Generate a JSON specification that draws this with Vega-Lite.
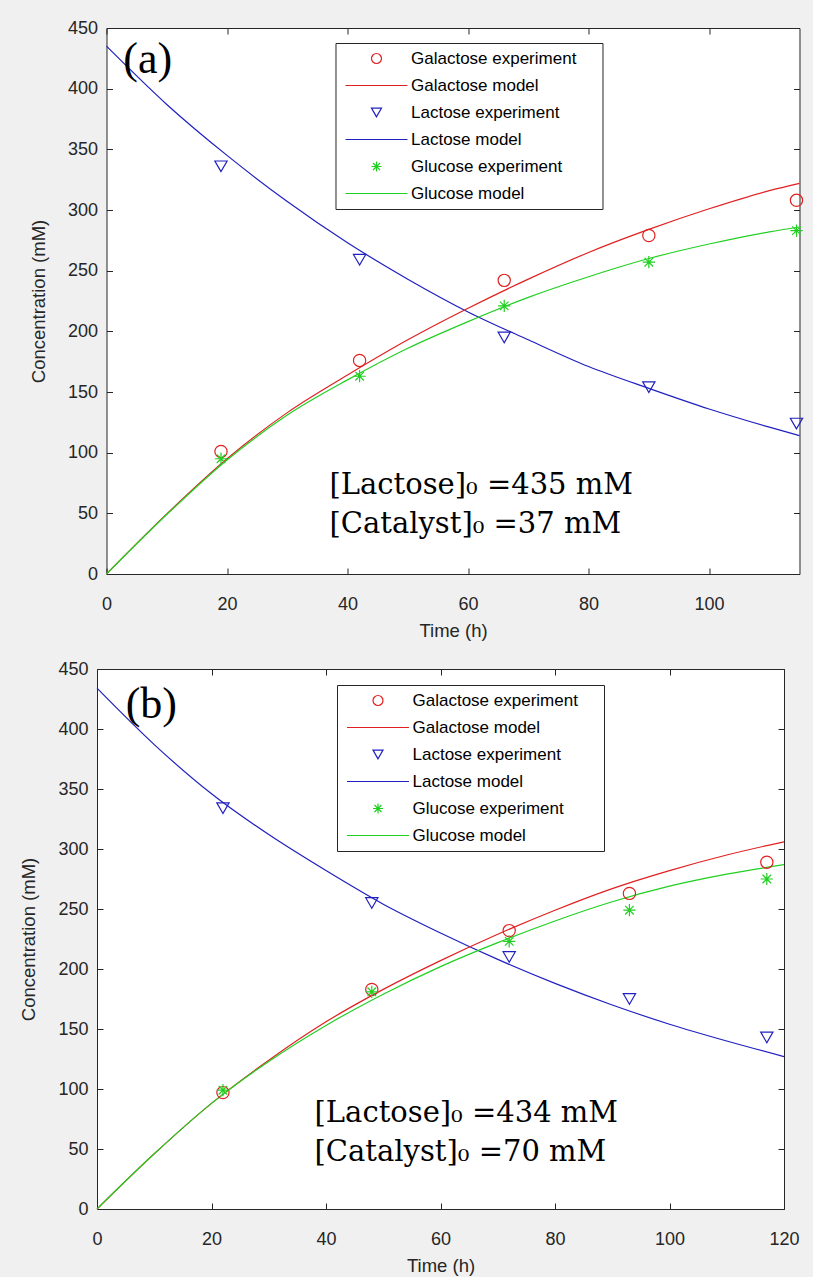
{
  "$schema": "https://vega.github.io/schema/vega-lite/v6.json",
  "background": "#f0f0f0",
  "padding": {"left": 19, "top": 18, "right": 1, "bottom": 2},
  "config": {
    "view": {"stroke": "#262626", "strokeWidth": 1, "fill": "white"},
    "axis": {
      "domain": false, "grid": false, "tickColor": "#262626", "tickSize": 6, "tickWidth": 1, "offset": -6,
      "labelColor": "#262626", "labelFont": "Liberation Sans", "labelFontSize": 18,
      "titleFont": "Liberation Sans", "titleFontSize": 18.5, "titleFontWeight": "normal", "titleColor": "#262626",
      "labelFlush": false, "labelOverlap": false, "labelBound": false
    },
    "legend": {
      "title": null, "fillColor": "white", "strokeColor": "#262626", "padding": 7,
      "labelFont": "Liberation Sans", "labelFontSize": 17, "labelColor": "#000000", "labelLimit": 400,
      "symbolSize": 100, "symbolStrokeWidth": 1.2, "symbolOffset": 25.5, "labelOffset": 26, "rowPadding": 9,
      "symbolFillColor": "transparent"
    }
  },
  "datasets": {
    "a_model": [
      {"series": "Lactose model", "t": 0, "c": 435}, {"series": "Lactose model", "t": 10, "c": 387}, {"series": "Lactose model", "t": 20, "c": 345},
      {"series": "Lactose model", "t": 30, "c": 307}, {"series": "Lactose model", "t": 40, "c": 273}, {"series": "Lactose model", "t": 50, "c": 243},
      {"series": "Lactose model", "t": 60, "c": 216}, {"series": "Lactose model", "t": 70, "c": 193}, {"series": "Lactose model", "t": 80, "c": 171},
      {"series": "Lactose model", "t": 90, "c": 153}, {"series": "Lactose model", "t": 100, "c": 136}, {"series": "Lactose model", "t": 110, "c": 121},
      {"series": "Lactose model", "t": 115, "c": 114},
      {"series": "Galactose model", "t": 0, "c": 0}, {"series": "Galactose model", "t": 10, "c": 49.5}, {"series": "Galactose model", "t": 20, "c": 95},
      {"series": "Galactose model", "t": 30, "c": 133}, {"series": "Galactose model", "t": 40, "c": 164}, {"series": "Galactose model", "t": 50, "c": 193},
      {"series": "Galactose model", "t": 60, "c": 219}, {"series": "Galactose model", "t": 70, "c": 243}, {"series": "Galactose model", "t": 80, "c": 265},
      {"series": "Galactose model", "t": 90, "c": 284}, {"series": "Galactose model", "t": 100, "c": 301}, {"series": "Galactose model", "t": 110, "c": 316},
      {"series": "Galactose model", "t": 115, "c": 322},
      {"series": "Glucose model", "t": 0, "c": 0}, {"series": "Glucose model", "t": 10, "c": 49}, {"series": "Glucose model", "t": 20, "c": 94},
      {"series": "Glucose model", "t": 30, "c": 131}, {"series": "Glucose model", "t": 40, "c": 160}, {"series": "Glucose model", "t": 50, "c": 186},
      {"series": "Glucose model", "t": 60, "c": 208}, {"series": "Glucose model", "t": 70, "c": 228}, {"series": "Glucose model", "t": 80, "c": 245},
      {"series": "Glucose model", "t": 90, "c": 260}, {"series": "Glucose model", "t": 100, "c": 272}, {"series": "Glucose model", "t": 110, "c": 282},
      {"series": "Glucose model", "t": 115, "c": 286}
    ],
    "a_exp": [
      {"series": "Galactose experiment", "t": 19, "c": 101}, {"series": "Galactose experiment", "t": 42, "c": 176}, {"series": "Galactose experiment", "t": 66, "c": 242},
      {"series": "Galactose experiment", "t": 90, "c": 279}, {"series": "Galactose experiment", "t": 114.5, "c": 308},
      {"series": "Lactose experiment", "t": 19, "c": 336}, {"series": "Lactose experiment", "t": 42, "c": 259}, {"series": "Lactose experiment", "t": 66, "c": 195},
      {"series": "Lactose experiment", "t": 90, "c": 154}, {"series": "Lactose experiment", "t": 114.5, "c": 124},
      {"series": "Glucose experiment", "t": 19, "c": 95}, {"series": "Glucose experiment", "t": 42, "c": 163}, {"series": "Glucose experiment", "t": 66, "c": 221},
      {"series": "Glucose experiment", "t": 90, "c": 257}, {"series": "Glucose experiment", "t": 114.5, "c": 283}
    ],
    "b_model": [
      {"series": "Lactose model", "t": 0, "c": 434}, {"series": "Lactose model", "t": 10, "c": 387}, {"series": "Lactose model", "t": 20, "c": 346},
      {"series": "Lactose model", "t": 30, "c": 312}, {"series": "Lactose model", "t": 40, "c": 282}, {"series": "Lactose model", "t": 50, "c": 254},
      {"series": "Lactose model", "t": 60, "c": 230}, {"series": "Lactose model", "t": 70, "c": 208}, {"series": "Lactose model", "t": 80, "c": 188},
      {"series": "Lactose model", "t": 90, "c": 170}, {"series": "Lactose model", "t": 100, "c": 154}, {"series": "Lactose model", "t": 110, "c": 140},
      {"series": "Lactose model", "t": 120, "c": 127},
      {"series": "Galactose model", "t": 0, "c": 0}, {"series": "Galactose model", "t": 10, "c": 46}, {"series": "Galactose model", "t": 20, "c": 88},
      {"series": "Galactose model", "t": 30, "c": 124}, {"series": "Galactose model", "t": 40, "c": 156}, {"series": "Galactose model", "t": 50, "c": 183},
      {"series": "Galactose model", "t": 60, "c": 207}, {"series": "Galactose model", "t": 70, "c": 229}, {"series": "Galactose model", "t": 80, "c": 249},
      {"series": "Galactose model", "t": 90, "c": 267}, {"series": "Galactose model", "t": 100, "c": 282}, {"series": "Galactose model", "t": 110, "c": 295},
      {"series": "Galactose model", "t": 120, "c": 306},
      {"series": "Glucose model", "t": 0, "c": 0}, {"series": "Glucose model", "t": 10, "c": 46}, {"series": "Glucose model", "t": 20, "c": 88},
      {"series": "Glucose model", "t": 30, "c": 123}, {"series": "Glucose model", "t": 40, "c": 153}, {"series": "Glucose model", "t": 50, "c": 179},
      {"series": "Glucose model", "t": 60, "c": 202}, {"series": "Glucose model", "t": 70, "c": 222}, {"series": "Glucose model", "t": 80, "c": 240},
      {"series": "Glucose model", "t": 90, "c": 256}, {"series": "Glucose model", "t": 100, "c": 269}, {"series": "Glucose model", "t": 110, "c": 279},
      {"series": "Glucose model", "t": 120, "c": 287}
    ],
    "b_exp": [
      {"series": "Galactose experiment", "t": 22, "c": 97}, {"series": "Galactose experiment", "t": 48, "c": 183}, {"series": "Galactose experiment", "t": 72, "c": 232},
      {"series": "Galactose experiment", "t": 93, "c": 263}, {"series": "Galactose experiment", "t": 117, "c": 289},
      {"series": "Lactose experiment", "t": 22, "c": 334}, {"series": "Lactose experiment", "t": 48, "c": 255}, {"series": "Lactose experiment", "t": 72, "c": 210},
      {"series": "Lactose experiment", "t": 93, "c": 175}, {"series": "Lactose experiment", "t": 117, "c": 143},
      {"series": "Glucose experiment", "t": 22, "c": 99}, {"series": "Glucose experiment", "t": 48, "c": 181}, {"series": "Glucose experiment", "t": 72, "c": 223},
      {"series": "Glucose experiment", "t": 93, "c": 249}, {"series": "Glucose experiment", "t": 117, "c": 275}
    ]
  },
  "columns": 1,
  "align": "all",
  "center": true,
  "spacing": 19,
  "resolve": {
    "scale": {"x": "independent", "y": "independent", "color": "independent", "shape": "independent"},
    "legend": {"color": "independent", "shape": "independent"}
  },
  "concat": [
    {
      "width": 693, "height": 546,
      "resolve": {"axis": {"x": "independent", "y": "independent"}},
      "layer": [
        {
          "data": {"name": "a_model"},
          "mark": {"type": "line", "strokeWidth": 1.2, "interpolate": "monotone"},
          "encoding": {
            "x": {"field": "t", "type": "quantitative", "scale": {"domain": [0, 115], "nice": false, "zero": false},
                  "axis": {"orient": "bottom", "values": [0, 20, 40, 60, 80, 100], "title": "Time (h)", "labelPadding": 21, "titlePadding": 8}},
            "y": {"field": "c", "type": "quantitative", "scale": {"domain": [0, 450], "nice": false},
                  "axis": {"orient": "left", "values": [0, 50, 100, 150, 200, 250, 300, 350, 400, 450], "title": "Concentration (mM)", "labelPadding": 9, "titlePadding": 19}},
            "color": {"field": "series", "type": "nominal",
                      "scale": {"domain": ["Galactose experiment", "Galactose model", "Lactose experiment", "Lactose model", "Glucose experiment", "Glucose model"],
                                "range": ["#e02020", "#e02020", "#2020c0", "#2020c0", "#20d020", "#20d020"]},
                      "legend": {"orient": "none", "legendX": 229, "legendY": 15, "labelExpr": "datum.label + '\u00a0\u00a0\u00a0\u00a0\u200b'",
                                 "encode": {"symbols": {"update": {"stroke": {"signal": "indexof(datum.value, 'Galactose') === 0 ? '#e02020' : indexof(datum.value, 'Lactose') === 0 ? '#2020c0' : '#20d020'"}}}}}}
          }
        },
        {
          "data": {"name": "a_exp"},
          "mark": {"type": "point", "filled": false, "size": 150, "strokeWidth": 1.2, "opacity": 1},
          "encoding": {
            "x": {"field": "t", "type": "quantitative", "axis": {"orient": "top", "labels": false, "title": null, "values": [0, 20, 40, 60, 80, 100]}},
            "y": {"field": "c", "type": "quantitative", "axis": {"orient": "right", "labels": false, "title": null, "values": [0, 50, 100, 150, 200, 250, 300, 350, 400, 450]}},
            "color": {"field": "series", "type": "nominal", "legend": {"orient": "none", "legendX": 229, "legendY": 15, "labelExpr": "datum.label + '\u00a0\u00a0\u00a0\u00a0\u200b'"}},
            "shape": {"field": "series", "type": "nominal",
                      "scale": {"domain": ["Galactose experiment", "Galactose model", "Lactose experiment", "Lactose model", "Glucose experiment", "Glucose model"],
                                "range": ["circle", "M-6.2,0L6.2,0", "triangle-down", "M-6.2,0L6.2,0", "M-1,0L1,0M0,-1L0,1M-0.7,-0.7L0.7,0.7M-0.7,0.7L0.7,-0.7", "M-6.2,0L6.2,0"]},
                      "legend": {"orient": "none", "legendX": 229, "legendY": 15, "labelExpr": "datum.label + '\u00a0\u00a0\u00a0\u00a0\u200b'",
                                 "encode": {"symbols": {"update": {"stroke": {"signal": "indexof(datum.value, 'Galactose') === 0 ? '#e02020' : indexof(datum.value, 'Lactose') === 0 ? '#2020c0' : '#20d020'"}}}}}}
          }
        },
        {
          "data": {"values": [{}]},
          "mark": {"type": "text", "font": "Liberation Serif", "fontSize": 44, "align": "left", "baseline": "middle", "color": "#000000"},
          "encoding": {
            "x": {"datum": 2.8, "type": "quantitative", "axis": null},
            "y": {"datum": 424, "type": "quantitative", "axis": null},
            "text": {"value": "(a)"}
          }
        },
        {
          "data": {"values": [{}]},
          "mark": {"type": "text", "font": "DejaVu Serif", "fontSize": 29, "align": "left", "baseline": "middle", "lineHeight": 39, "color": "#000000"},
          "encoding": {
            "x": {"datum": 37, "type": "quantitative", "axis": null},
            "y": {"datum": 73, "type": "quantitative", "axis": null},
            "text": {"value": ["[Lactose]₀ =435 mM", "[Catalyst]₀ =37 mM"]}
          }
        }
      ]
    },
    {
      "width": 687, "height": 540,
      "resolve": {"axis": {"x": "independent", "y": "independent"}},
      "layer": [
        {
          "data": {"name": "b_model"},
          "mark": {"type": "line", "strokeWidth": 1.2, "interpolate": "monotone"},
          "encoding": {
            "x": {"field": "t", "type": "quantitative", "scale": {"domain": [0, 120], "nice": false, "zero": false},
                  "axis": {"orient": "bottom", "values": [0, 20, 40, 60, 80, 100, 120], "title": "Time (h)", "labelPadding": 21, "titlePadding": 8}},
            "y": {"field": "c", "type": "quantitative", "scale": {"domain": [0, 450], "nice": false},
                  "axis": {"orient": "left", "values": [0, 50, 100, 150, 200, 250, 300, 350, 400, 450], "title": "Concentration (mM)", "labelPadding": 9, "titlePadding": 19}},
            "color": {"field": "series", "type": "nominal",
                      "scale": {"domain": ["Galactose experiment", "Galactose model", "Lactose experiment", "Lactose model", "Glucose experiment", "Glucose model"],
                                "range": ["#e02020", "#e02020", "#2020c0", "#2020c0", "#20d020", "#20d020"]},
                      "legend": {"orient": "none", "legendX": 240, "legendY": 16, "labelExpr": "datum.label + '\u00a0\u00a0\u00a0\u00a0\u200b'",
                                 "encode": {"symbols": {"update": {"stroke": {"signal": "indexof(datum.value, 'Galactose') === 0 ? '#e02020' : indexof(datum.value, 'Lactose') === 0 ? '#2020c0' : '#20d020'"}}}}}}
          }
        },
        {
          "data": {"name": "b_exp"},
          "mark": {"type": "point", "filled": false, "size": 150, "strokeWidth": 1.2, "opacity": 1},
          "encoding": {
            "x": {"field": "t", "type": "quantitative", "axis": {"orient": "top", "labels": false, "title": null, "values": [0, 20, 40, 60, 80, 100, 120]}},
            "y": {"field": "c", "type": "quantitative", "axis": {"orient": "right", "labels": false, "title": "\u200b", "titleColor": "transparent", "titleFontSize": 18, "titlePadding": 12, "values": [0, 50, 100, 150, 200, 250, 300, 350, 400, 450]}},
            "color": {"field": "series", "type": "nominal", "legend": {"orient": "none", "legendX": 240, "legendY": 16, "labelExpr": "datum.label + '\u00a0\u00a0\u00a0\u00a0\u200b'"}},
            "shape": {"field": "series", "type": "nominal",
                      "scale": {"domain": ["Galactose experiment", "Galactose model", "Lactose experiment", "Lactose model", "Glucose experiment", "Glucose model"],
                                "range": ["circle", "M-6.2,0L6.2,0", "triangle-down", "M-6.2,0L6.2,0", "M-1,0L1,0M0,-1L0,1M-0.7,-0.7L0.7,0.7M-0.7,0.7L0.7,-0.7", "M-6.2,0L6.2,0"]},
                      "legend": {"orient": "none", "legendX": 240, "legendY": 16, "labelExpr": "datum.label + '\u00a0\u00a0\u00a0\u00a0\u200b'",
                                 "encode": {"symbols": {"update": {"stroke": {"signal": "indexof(datum.value, 'Galactose') === 0 ? '#e02020' : indexof(datum.value, 'Lactose') === 0 ? '#2020c0' : '#20d020'"}}}}}}
          }
        },
        {
          "data": {"values": [{}]},
          "mark": {"type": "text", "font": "Liberation Serif", "fontSize": 44, "align": "left", "baseline": "middle", "color": "#000000"},
          "encoding": {
            "x": {"datum": 5, "type": "quantitative", "axis": null},
            "y": {"datum": 420, "type": "quantitative", "axis": null},
            "text": {"value": "(b)"}
          }
        },
        {
          "data": {"values": [{}]},
          "mark": {"type": "text", "font": "DejaVu Serif", "fontSize": 29, "align": "left", "baseline": "middle", "lineHeight": 39, "color": "#000000"},
          "encoding": {
            "x": {"datum": 38, "type": "quantitative", "axis": null},
            "y": {"datum": 80, "type": "quantitative", "axis": null},
            "text": {"value": ["[Lactose]₀ =434 mM", "[Catalyst]₀ =70 mM"]}
          }
        }
      ]
    }
  ]
}
